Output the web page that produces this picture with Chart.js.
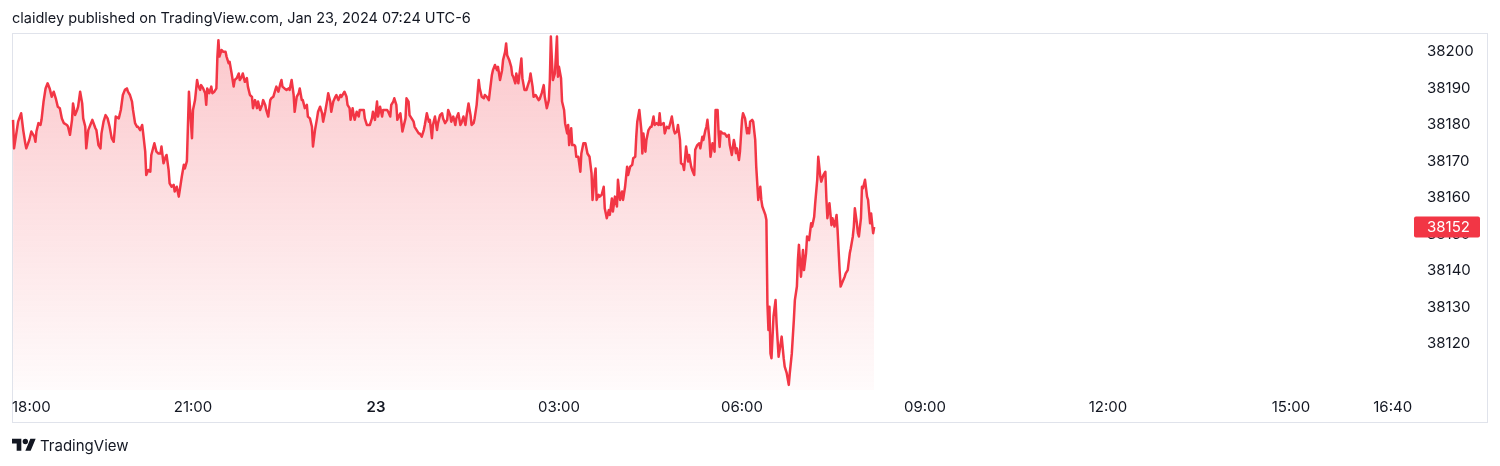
<!DOCTYPE html>
<html><head><meta charset="utf-8">
<script src="https://cdn.jsdelivr.net/npm/chart.js@4/dist/chart.umd.min.js"></script>
<style>
html,body{margin:0;padding:0;background:#fff;}
#wrap{position:relative;width:1500px;height:466px;overflow:hidden;font-family:Inter,"Noto Sans",sans-serif;color:#131722;}
#title{position:absolute;left:12px;top:8px;font-size:14.5px;line-height:20px;white-space:nowrap;}
#logo{position:absolute;left:12px;top:435px;height:20px;display:flex;align-items:center;font-size:15px;white-space:nowrap;}
canvas{position:absolute;left:0;top:0;}
</style></head><body>
<div id="wrap">
<canvas id="c" width="1500" height="466"></canvas>
<div id="title">claidley published on TradingView.com, Jan 23, 2024 07:24 UTC-6</div>
<div id="logo"><svg width="24" height="19" viewBox="0 0 36 28"><path d="M14 22H7V11H0V4h14v18zM28 22h-8l7.5-18h8L28 22z" fill="#131722"/><circle cx="20" cy="8" r="4" fill="#131722"/></svg><span style="margin-left:4px">TradingView</span></div>
</div>
<script>
// minutes after 18:00 (Jan 22)
const minutesFrom1800 = [
3,4,8,11,13,15,16,19,21,24,
25,26,28,30,31,33,35,37,39,41,
43,45,47,49,51,53,56,57,59,61,
62,64,66,67,69,71,72,74,75,77,
79,81,84,85,87,89,90,92,94,96,
98,100,102,103,104,107,109,111,113,115,
116,118,120,121,123,125,126,128,130,131,
133,134,136,138,139,142,144,146,148,149,
151,153,154,156,157,159,161,162,164,166,
167,169,171,172,174,
176,179,180,182,184,185,187,188,190,192,
193,194,196,198,199,201,203,204,205,206,
208,210,212,213,215,216,218,220,221,223,
225,226,228,229,231,233,234,236,238,239,
241,243,244,246,248,249,251,252,254,256,
257,259,261,262,264,266,267,268,270,272,
274,275,277,279,280,282,284,285,287,288,
290,292,293,295,297,298,300,302,303,305,
307,308,310,312,313,315,316,318,320,321,
323,325,326,329,331,332,334,335,337,338,
339,341,343,344,346,
348,349,351,354,356,357,359,361,362,364,
366,367,371,372,374,375,377,378,380,381,
383,384,386,389,390,392,393,395,397,398,
400,402,403,405,407,408,410,412,413,415,
416,418,420,421,423,425,426,428,430,431,
433,434,436,438,439,441,443,444,446,448,
449,451,453,454,456,457,459,461,462,464,
466,467,469,471,472,474,475,477,479,480,
482,484,485,487,488,489,491,493,494,495,
497,498,500,502,503,504,506,508,509,511,
512,514,515,517,520,
521,523,525,526,528,530,531,532,533,534,
536,538,539,540,542,543,545,546,548,549,
550,552,553,555,556,557,559,561,562,564,
566,568,570,572,573,575,576,577,579,580,
582,584,585,587,589,590,592,593,595,597,
598,600,602,603,605,607,608,610,612,613,
615,616,617,619,621,622,623,625,626,628,
630,631,633,634,636,638,639,640,643,644,
646,648,649,651,653,654,656,657,659,660,
662,663,665,667,668,670,671,673,674,676,
678,679,681,682,684,685,686,688,689,691,
692,693,
694,696,697,698,699,701,703,705,707,708,
710,712,713,714,715,717,718,720,721,723,
725,726,727,728,730,731,733,734,736,738,
739,740,743,744,745,746,747,748,749,751,
753,754,756,757,759,761,762,764,766,767,
769,771,772,774,775,776,778,780,781,783,
784,786,788,789,791,792,794,795,797,798,
800,802,803,804,806,808,809,811,813,814,
816,817,819,821,822,824,826,827,829,830,
831,833,834,835,837,838,839,841,843,844,
846,847,848,849,850
];
const prices = [
38181.3,38173.5,38180.8,38183.1,38178.5,38174.9,38173.5,38175.8,38178.1,38176.7,
38175.3,38178.1,38180.4,38179.9,38181.3,38186.3,38189.9,38191.3,38189.9,38187.6,
38189.0,38187.2,38184.9,38184.5,38181.7,38180.4,38179.9,38179.5,38177.2,38181.3,
38185.8,38182.6,38184.0,38184.9,38189.0,38185.8,38181.7,38179.5,38173.5,38178.5,
38179.9,38181.3,38179.0,38178.5,38174.4,38173.5,38177.6,38180.8,38182.6,38181.7,
38179.4,38176.3,38175.3,38178.5,38182.2,38181.7,38184.0,38188.1,38189.5,38189.9,
38189.0,38188.1,38186.3,38184.0,38180.4,38179.4,38179.4,38178.5,38179.9,38177.6,
38172.6,38166.2,38167.6,38167.1,38171.7,38174.9,38172.6,38172.1,38172.1,38174.0,
38169.4,38171.2,38171.7,38167.6,38163.9,38163.0,38163.5,38161.7,38163.0,38160.3,
38162.1,38165.8,38169.0,38168.0,38170.0,
38189.0,38176.3,38184.0,38186.7,38192.2,38190.8,38189.5,38190.8,38189.9,38188.6,
38185.4,38189.9,38188.6,38190.4,38188.6,38189.0,38189.9,38198.6,38203.1,38198.6,
38200.4,38199.9,38199.9,38198.6,38196.8,38197.2,38194.0,38190.4,38192.2,38192.7,
38194.0,38192.2,38193.1,38194.0,38191.7,38192.7,38190.4,38188.1,38187.6,38184.5,
38186.7,38184.5,38186.3,38184.0,38185.4,38186.7,38185.4,38184.0,38182.2,38186.7,
38187.2,38187.6,38189.5,38190.4,38189.0,38191.3,38192.2,38190.4,38189.9,38189.5,
38189.9,38189.5,38192.2,38188.1,38183.5,38187.6,38188.6,38189.9,38186.7,38186.7,
38184.5,38185.4,38182.2,38181.7,38179.4,38174.0,38178.5,38181.7,38183.5,38184.9,
38183.1,38180.8,38183.5,38186.7,38188.6,38186.3,38183.5,38186.3,38187.6,38188.1,
38186.7,38188.1,38187.6,38189.0,38187.6,38185.4,38184.5,38181.3,38184.5,38182.6,
38181.3,38183.5,38182.2,38184.0,38184.0,
38184.0,38181.7,38179.9,38179.9,38181.7,38183.5,38181.3,38186.3,38182.2,38184.9,
38182.2,38184.0,38184.0,38183.5,38182.2,38185.4,38186.3,38187.2,38185.4,38181.3,
38182.6,38183.1,38178.1,38181.7,38187.2,38186.3,38182.6,38181.7,38180.8,38179.4,
38178.5,38177.6,38177.6,38176.7,38178.5,38179.9,38183.1,38180.8,38181.3,38176.3,
38179.9,38182.2,38178.5,38180.4,38182.6,38183.1,38181.7,38180.4,38181.3,38184.0,
38182.6,38180.8,38182.2,38179.9,38181.7,38183.1,38179.9,38180.4,38182.2,38179.9,
38182.2,38185.8,38182.6,38179.9,38180.4,38181.7,38185.4,38192.2,38189.9,38187.6,
38187.2,38188.1,38187.6,38186.7,38189.0,38193.6,38194.9,38196.3,38194.9,38195.8,
38192.2,38194.9,38197.7,38199.9,38202.2,38199.0,38197.7,38195.8,38193.6,38193.1,
38191.3,38194.0,38191.3,38195.8,38198.1,38192.7,38189.5,38189.5,38190.4,38192.2,
38194.0,38190.4,38187.6,38188.1,38186.7,
38187.0,38188.6,38190.8,38187.6,38184.5,38186.7,38192.2,38204.1,38197.7,38192.2,
38194.0,38204.1,38193.1,38195.8,38192.7,38186.3,38184.0,38180.4,38177.6,38179.9,
38174.4,38179.0,38174.4,38174.4,38174.0,38171.2,38171.2,38167.1,38172.1,38174.9,
38174.9,38172.1,38171.2,38166.7,38159.4,38165.8,38168.0,38159.4,38160.8,38160.3,
38160.8,38163.0,38157.1,38154.4,38156.6,38155.3,38159.8,38156.2,38160.3,38157.6,
38164.9,38159.4,38161.7,38159.4,38163.0,38168.5,38166.2,38168.5,38169.0,38170.8,
38171.2,38176.7,38180.8,38184.0,38178.5,38172.1,38177.6,38172.6,38175.8,38178.5,
38179.4,38179.4,38182.2,38179.9,38180.4,38179.9,38183.1,38179.9,38180.4,38177.6,
38179.4,38179.0,38179.9,38182.2,38178.5,38177.6,38178.1,38179.9,38175.8,38169.4,
38169.0,38167.6,38174.0,38169.9,38171.7,38168.5,38167.6,38166.2,38173.1,38174.4,
38174.9,38173.5,38176.7,38175.8,38178.5,38179.4,38181.3,38175.8,38171.2,38174.9,
38174.4,38172.6,
38184.0,38184.0,38177.6,38173.9,38178.1,38177.6,38177.6,38176.7,38177.2,38174.4,
38171.7,38175.8,38174.4,38172.2,38173.5,38170.3,38172.6,38181.3,38183.1,38181.7,
38177.6,38179.0,38177.6,38180.8,38181.3,38180.8,38175.8,38168.5,38159.4,38163.0,
38159.4,38157.6,38155.3,38153.9,38131.1,38123.8,38130.2,38117.4,38116.1,38127.5,
38132.0,38125.6,38116.5,38118.3,38122.0,38116.1,38113.8,38112.0,38108.8,38112.0,
38117.4,38126.6,38132.0,38135.7,38143.0,38147.1,38138.4,38145.7,38140.2,38144.8,
38149.4,38148.4,38153.0,38152.1,38154.8,38158.5,38164.9,38171.2,38165.8,38164.4,
38166.2,38167.1,38159.8,38154.4,38158.5,38152.5,38154.4,38152.1,38155.3,38151.2,
38140.2,38135.7,38137.1,38138.4,38139.3,38140.2,38144.8,38146.2,38149.4,38152.1,
38157.1,38153.0,38150.3,38149.4,38154.4,38163.0,38162.6,38164.9,38160.3,38159.4,
38153.0,38155.7,38153.0,38150.3,38152.0
];
const xTickMinutes = [0,180,360,540,720,900,1080,1260,1360];
const xTickLabels = ['18:00','21:00','23','03:00','06:00','09:00','12:00','15:00','16:40'];
const yTickValues = [38120,38130,38140,38150,38160,38170,38180,38190,38200];
const lastPriceLabel = '38152';

const FONT = 'Inter, "Noto Sans", sans-serif';
const TXT = '#131722';
const RED = '#f23645';

const n = Math.min(minutesFrom1800.length, prices.length);
const points = [];
for (let i = 0; i < n; i++) points.push({x: minutesFrom1800[i], y: prices[i]});

const frame = {
  id: 'frame',
  beforeDraw(chart) {
    const c = chart.ctx;
    c.save();
    c.strokeStyle = '#e0e3eb';
    c.lineWidth = 1;
    c.strokeRect(12.5, 33.5, 1475, 389);
    c.restore();
  },
  afterDraw(chart) {
    const c = chart.ctx;
    const xs = chart.scales.x, ys = chart.scales.y;
    c.save();
    c.textBaseline = 'middle';
    c.fillStyle = TXT;
    xTickMinutes.forEach((m, i) => {
      const bold = xTickLabels[i] === '23';
      c.font = (bold ? '600 ' : '400 ') + '15px ' + FONT;
      const w = c.measureText(xTickLabels[i]).width;
      let left = xs.getPixelForValue(m) - w / 2;
      if (left < 12) left = 12;
      c.textAlign = 'left';
      c.fillText(xTickLabels[i], left, 407);
    });
    const yv = ys.getPixelForValue(prices[n - 1]);
    c.fillStyle = RED;
    c.beginPath();
    c.roundRect(1414, yv - 10.5, 66, 21, 2);
    c.fill();
    c.fillStyle = '#ffffff';
    c.font = '400 15px ' + FONT;
    c.textAlign = 'left';
    c.fillText(lastPriceLabel, 1427, yv + 0.5);
    c.restore();
  }
};

new Chart(document.getElementById('c'), {
  type: 'line',
  data: {
    datasets: [{
      data: points,
      borderColor: RED,
      borderWidth: 2.5,
      borderJoinStyle: 'round',
      pointRadius: 0,
      tension: 0,
      fill: 'start',
      backgroundColor: (ctx) => {
        const ch = ctx.chart, a = ch.chartArea;
        if (!a) return 'rgba(242,54,69,0.15)';
        const g = ch.ctx.createLinearGradient(0, a.top, 0, a.bottom);
        g.addColorStop(0, 'rgba(242,54,69,0.28)');
        g.addColorStop(1, 'rgba(242,54,69,0.02)');
        return g;
      }
    }]
  },
  options: {
    responsive: false,
    animation: false,
    events: [],
    layout: {padding: {left: 10, top: 33, right: 12, bottom: 43}},
    plugins: {legend: {display: false}, tooltip: {enabled: false}},
    scales: {
      x: {
        type: 'linear', min: 0, max: 1380,
        grid: {display: false, drawTicks: false},
        border: {display: false},
        ticks: {display: false},
        afterBuildTicks: (s) => { s.ticks = xTickMinutes.map(v => ({value: v})); },
        afterFit: (s) => { s.height = 33; }
      },
      y: {
        position: 'right',
        min: 38107.4, max: 38205.06,
        grid: {display: false, drawTicks: false},
        border: {display: false},
        ticks: {color: TXT, padding: 14, font: {family: FONT, size: 15}, callback: (v) => String(v)},
        afterBuildTicks: (s) => { s.ticks = yTickValues.map(v => ({value: v})); },
        afterFit: (s) => { s.width = 75; }
      }
    }
  },
  plugins: [frame]
});
</script>
</body></html>
